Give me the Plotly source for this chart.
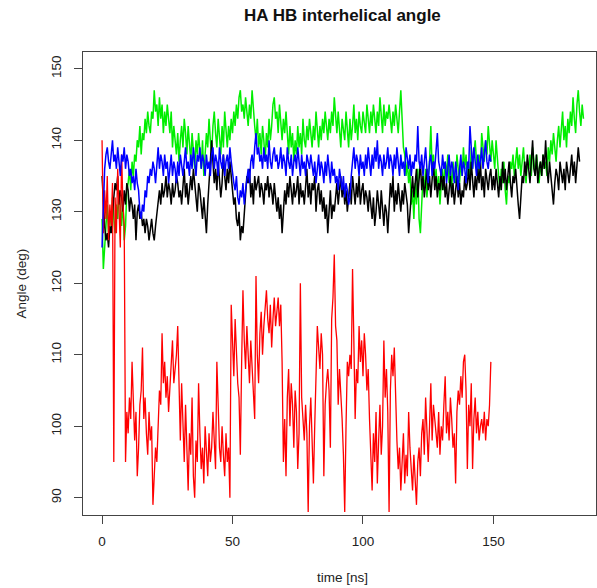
import plotly.graph_objects as go

# sampling step of the trajectories (ns)
step_ns = 0.5

black_vals = [
    135, 131, 128, 126, 127, 125, 128, 127, 130, 132, 134, 133, 135, 131, 133, 132, 130, 133, 131, 134,
    133, 130, 132, 131, 129, 131, 126, 130, 131, 129, 130, 128, 129, 127, 129, 128, 126, 128, 129, 127,
    126, 128, 130, 132, 133, 131, 134, 132, 133, 135, 132, 134, 133, 131, 134, 132, 133, 135, 134, 132,
    133, 131, 134, 136, 132, 134, 131, 133, 135, 133, 136, 134, 132, 130, 134, 133, 131, 129, 132, 130,
    127, 131, 134, 136, 140, 137, 134, 136, 133, 137, 135, 132, 134, 138, 135, 133, 136, 134, 137, 135,
    133, 131, 132, 129, 128, 130, 126, 128, 127, 130, 133, 135, 134, 136, 132, 134, 131, 135, 133, 134,
    135, 132, 134, 133, 131, 134, 133, 135, 132, 134, 133, 131, 134, 132, 130, 132, 129, 131, 127, 130,
    133, 131, 134, 132, 135, 133, 131, 134, 132, 133, 135, 131, 134, 132, 133, 131, 134, 136, 132, 134,
    131, 134, 133, 135, 130, 133, 134, 131, 133, 130, 132, 129, 131, 127, 130, 133, 129, 131, 130, 132,
    134, 131, 133, 135, 132, 134, 131, 133, 130, 132, 134, 131, 135, 133, 131, 134, 132, 135, 131, 133,
    134, 131, 133, 132, 130, 133, 131, 129, 132, 128, 130, 133, 131, 129, 133, 130, 128, 131, 130, 127,
    131, 134, 132, 135, 130, 133, 131, 134, 132, 130, 133, 131, 134, 132, 131, 127, 130, 133, 135, 132,
    134, 136, 132, 135, 137, 133, 135, 132, 134, 136, 133, 135, 132, 134, 137, 133, 135, 132, 134, 133,
    136, 133, 135, 132, 134, 131, 133, 135, 132, 134, 131, 133, 135, 132, 134, 131, 133, 132, 135, 133,
    134, 136, 133, 137, 134, 132, 135, 133, 136, 134, 137, 133, 135, 132, 136, 134, 133, 135, 136, 133,
    135, 133, 136, 134, 132, 135, 133, 137, 134, 136, 133, 135, 137, 134, 132, 135, 134, 136, 133, 131,
    129, 133, 135, 134, 137, 135, 138, 136, 134, 137, 140, 136, 135, 138, 134, 136, 137, 135, 138, 136,
    140, 136, 134, 137, 135, 133, 131, 134, 136, 135, 133, 137, 135, 134, 136, 133, 137, 135, 134, 136,
    138, 135, 137, 134, 136, 139, 137,
]

red_vals = [
    140, 127, 133, 129, 135, 126, 131, 128, 134, 95, 132, 127, 136, 130, 125, 138, 131, 128, 95, 102,
    99, 104, 101, 109, 103, 98, 102, 93, 97, 103, 105, 111, 101, 104, 99, 96, 102, 98, 100, 89,
    93, 97, 95, 100, 105, 103, 113, 106, 109, 104, 107, 102, 106, 109, 112, 106, 108, 110, 114, 104,
    98, 106, 101, 95, 103, 97, 91, 99, 96, 104, 93, 90, 98, 95, 106, 99, 94, 97, 92, 100,
    96, 93, 99, 95, 97, 102, 98, 94, 109, 101, 97, 95, 100, 96, 93, 99, 95, 97, 90, 117,
    113, 107, 115, 110, 106, 104, 96, 109, 119, 112, 108, 114, 110, 106, 112, 108, 104, 101, 121, 110,
    106, 113, 116, 110, 114, 117, 119, 115, 113, 117, 111, 115, 118, 114, 116, 118, 114, 117, 109, 95,
    101, 93, 104, 108, 100, 106, 103, 97, 105, 102, 94, 99, 120, 104, 101, 98, 103, 99, 88, 100,
    104, 96, 92, 100, 109, 114, 111, 108, 113, 110, 93, 103, 106, 108, 105, 97, 115, 118, 124, 114,
    112, 103, 108, 105, 101, 96, 88, 100, 109, 107, 110, 108, 122, 112, 101, 108, 106, 114, 109, 112,
    107, 113, 110, 105, 108, 101, 96, 91, 99, 95, 102, 92, 98, 103, 96, 100, 112, 104, 108, 102,
    88, 105, 110, 107, 111, 104, 98, 94, 97, 91, 95, 99, 92, 96, 93, 102, 97, 94, 91, 96,
    92, 89, 95, 97, 93, 99, 101, 96, 104, 98, 95, 100, 106, 98, 103, 101, 99, 97, 102, 96,
    100, 98, 103, 107, 99, 102, 98, 104, 101, 97, 99, 92, 102, 105, 103, 107, 104, 109, 110, 105,
    94, 103, 100, 106, 94, 101, 104, 99, 102, 98, 100, 101, 99, 102, 98, 101, 100, 103, 109,
]

green_vals = [
    129, 122, 125, 128, 131, 127, 130, 128, 132, 129, 127, 131, 129, 133, 130, 128, 132, 126, 128, 133,
    134, 136, 133, 137, 135, 138, 137, 140, 139, 142, 138, 141, 140, 143, 141, 144, 142, 141, 144, 143,
    147, 144, 145, 142, 146, 143, 145, 141, 144, 142, 145, 143, 141, 144, 139, 142, 140, 138, 141, 137,
    140, 142, 139, 143, 141, 138, 142, 140, 137, 141, 139, 136, 140, 138, 141, 139, 136, 140, 135, 138,
    141, 139, 143, 140, 138, 142, 144, 141, 139, 143, 140, 138, 142, 139, 144, 141, 139, 142, 140, 143,
    141, 144, 142, 145, 143, 146, 147, 144, 145, 143, 146, 144, 142, 145, 143, 147, 144, 142, 140, 143,
    139, 141, 138, 142, 140, 137, 141, 139, 143, 140, 142, 145, 146, 143, 144, 141, 145, 142, 140, 143,
    141, 144, 140, 138, 142, 139, 141, 137, 140, 138, 142, 139, 141, 138, 143, 140, 139, 142, 140, 143,
    141, 139, 142, 140, 144, 141, 139, 142, 140, 143, 141, 144, 142, 140, 143, 141, 144, 142, 146, 143,
    141, 144, 142, 139, 143, 141, 140, 144, 142, 139, 143, 140, 142, 145, 141, 143, 140, 144, 142, 141,
    144, 142, 141, 145, 143, 141, 144, 142, 145, 143, 141, 144, 142, 146, 143, 141, 145, 142, 144, 143,
    145, 143, 141, 144, 142, 145, 143, 141, 144, 147, 143, 139, 138, 135, 137, 134, 136, 131, 133, 129,
    134, 131, 136, 129, 127, 132, 135, 133, 136, 132, 134, 137, 142, 136, 138, 134, 136, 133, 135, 131,
    134, 136, 133, 137, 135, 138, 134, 136, 133, 137, 135, 134, 138, 136, 134, 137, 135, 139, 136, 138,
    135, 137, 134, 139, 136, 138, 140, 137, 135, 138, 136, 141, 139, 137, 140, 138, 142, 139, 137, 140,
    138, 136, 140, 137, 135, 133, 136, 134, 137, 133, 131, 135, 134, 137, 136, 138, 135, 137, 139, 136,
    138, 135, 137, 139, 136, 134, 137, 136, 138, 135, 139, 137, 135, 138, 136, 134, 137, 135, 138, 136,
    137, 135, 139, 137, 140, 138, 141, 139, 137, 140, 142, 139, 141, 144, 140, 142, 139, 143, 141, 144,
    142, 146, 143, 141, 145, 147, 144, 142, 145, 143,
]

blue_vals = [
    125, 130, 136, 138, 139, 137, 136, 138, 140, 137, 138, 136, 139, 137, 135, 138, 137, 139, 136, 138,
    137, 135, 136, 134, 135, 133, 136, 134, 133, 130, 129, 131, 130, 133, 132, 135, 134, 136, 135, 137,
    136, 134, 137, 139, 136, 138, 137, 135, 138, 136, 137, 134, 136, 138, 135, 137, 136, 134, 137, 135,
    138, 136, 135, 137, 139, 136, 137, 135, 138, 136, 139, 137, 135, 138, 137, 139, 136, 138, 137, 135,
    138, 136, 137, 135, 138, 139, 136, 138, 137, 135, 139, 137, 136, 138, 135, 137, 138, 136, 139, 137,
    135, 134, 133, 135, 132, 131, 133, 132, 134, 131, 133, 135, 136, 134, 137, 138, 136, 139, 141, 138,
    139, 137, 138, 136, 139, 137, 138, 136, 140, 137, 136, 138, 139, 137, 138, 136, 137, 139, 136, 138,
    137, 135, 139, 137, 136, 138, 135, 137, 138, 136, 139, 137, 135, 138, 136, 137, 135, 138, 137, 136,
    138, 136, 135, 137, 134, 136, 138, 135, 137, 136, 134, 137, 135, 138, 136, 134, 137, 135, 136, 134,
    135, 133, 136, 134, 133, 135, 132, 134, 133, 131, 132, 135, 137, 139, 136, 138, 137, 135, 138, 136,
    137, 135, 138, 136, 139, 137, 135, 138, 136, 139, 137, 140, 136, 138, 137, 135, 138, 136, 137, 139,
    136, 138, 137, 135, 138, 136, 139, 137, 135, 138, 136, 137, 135, 139, 137, 136, 138, 135, 137, 136,
    138, 137, 142, 137, 136, 138, 135, 137, 139, 136, 134, 137, 138, 135, 137, 136, 138, 141, 137, 136,
    135, 138, 136, 137, 134, 136, 138, 135, 137, 136, 134, 137, 135, 133, 136, 138, 135, 137, 136, 134,
    137, 136, 142, 138, 136, 139, 137, 135, 138, 136, 137, 139, 136, 138, 140, 137, 136, 138, 137,
]

x_ticks = [0, 50, 100, 150]
y_ticks = [90, 100, 110, 120, 130, 140, 150]

title_text = "HA HB interhelical angle"
x_title = "time [ns]"
y_title = "Angle (deg)"


def times(vals):
    return [i * step_ns for i in range(len(vals))]


fig = go.Figure()
for vals, color, w in [(green_vals, "#00ee00", 1.5), (black_vals, "#000000", 1.5),
                       (red_vals, "#ff0000", 1.3), (blue_vals, "#0000ff", 1.5)]:
    fig.add_trace(go.Scatter(x=times(vals), y=vals, mode="lines",
                             line=dict(color=color, width=w),
                             showlegend=False, hoverinfo="skip"))

axis_common = dict(showgrid=False, zeroline=False, showline=True,
                   linecolor="#444444", linewidth=1, mirror=True,
                   ticks="outside", ticklen=8, tickcolor="#444444",
                   tickwidth=1,
                   tickfont=dict(family="Liberation Sans, Arial, sans-serif",
                                 size=13.5, color="#222222"))

fig.update_layout(
    width=597, height=588,
    margin=dict(l=83, r=1, t=52, b=73),
    paper_bgcolor="white", plot_bgcolor="white",
    xaxis=dict(range=[-7.3, 189.3], tickvals=x_ticks,
               ticklabelstandoff=6, **axis_common),
    yaxis=dict(range=[87.58, 152.34], tickvals=y_ticks, tickangle=-90,
               ticklabelstandoff=8, **axis_common),
    annotations=[
        dict(text="<b>" + title_text + "</b>", xref="paper", yref="paper",
             x=0.505, y=1.078, xanchor="center", yanchor="middle",
             showarrow=False,
             font=dict(family="Liberation Sans, Arial, sans-serif", size=17,
                       color="#111111")),
        dict(text=x_title, xref="paper", yref="paper",
             x=0.505, y=-0.134, xanchor="center", yanchor="middle",
             showarrow=False,
             font=dict(family="Liberation Sans, Arial, sans-serif", size=13.5,
                       color="#222222")),
        dict(text=y_title, xref="paper", yref="paper",
             x=-0.119, y=0.5, xanchor="center", yanchor="middle",
             textangle=-90, showarrow=False,
             font=dict(family="Liberation Sans, Arial, sans-serif", size=13.5,
                       color="#222222")),
    ],
)

fig.write_html("out.html")
